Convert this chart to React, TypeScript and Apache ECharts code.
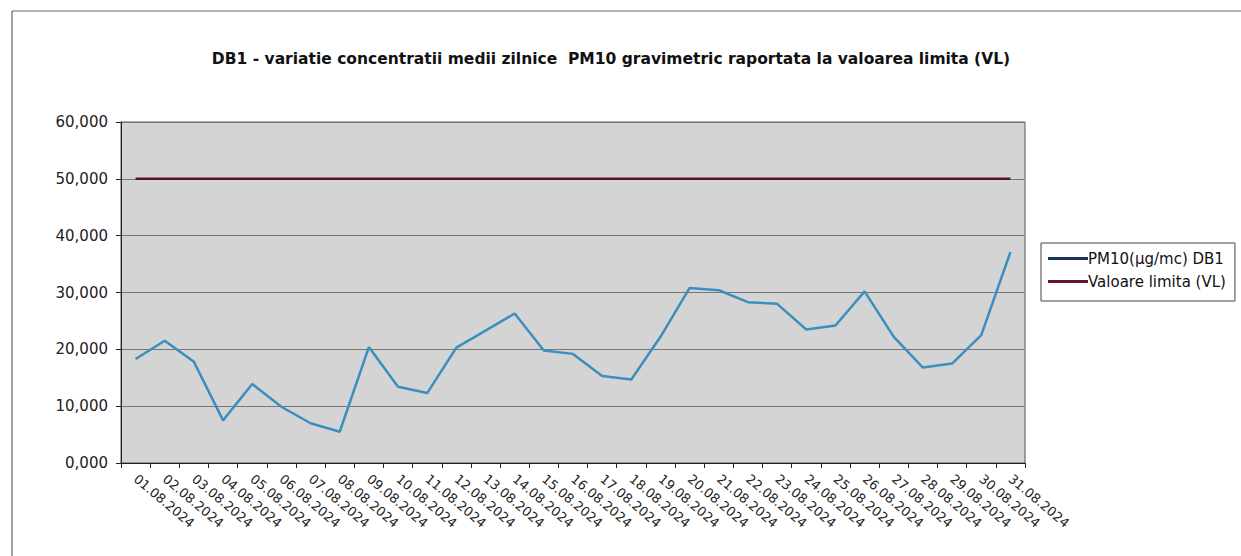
import React, { useEffect, useRef } from "react";
import * as echarts from "echarts";

const categories = [
  "01.08.2024", "02.08.2024", "03.08.2024", "04.08.2024", "05.08.2024", "06.08.2024",
  "07.08.2024", "08.08.2024", "09.08.2024", "10.08.2024", "11.08.2024", "12.08.2024",
  "13.08.2024", "14.08.2024", "15.08.2024", "16.08.2024", "17.08.2024", "18.08.2024",
  "19.08.2024", "20.08.2024", "21.08.2024", "22.08.2024", "23.08.2024", "24.08.2024",
  "25.08.2024", "26.08.2024", "27.08.2024", "28.08.2024", "29.08.2024", "30.08.2024",
  "31.08.2024",
];

const pm10 = [
  18.3, 21.5, 17.8, 7.5, 13.9, 9.9, 7.0, 5.5, 20.4, 13.4, 12.3, 20.3, 23.3, 26.3, 19.8,
  19.2, 15.3, 14.7, 22.2, 30.8, 30.4, 28.3, 28.0, 23.5, 24.2, 30.2, 22.2, 16.8, 17.5,
  22.5, 37.1,
];

const limitValues = categories.map(() => 50);

const titleText =
  "DB1 - variatie concentratii medii zilnice  PM10 gravimetric raportata la valoarea limita (VL)";
const seriesNames = ["PM10(µg/mc) DB1", "Valoare limita (VL)"];

const FONT = "DejaVu Sans, Liberation Sans, Arial, sans-serif";

export default function App() {
  const ref = useRef<HTMLDivElement>(null);
  useEffect(() => {
    if (!ref.current) return;
    const chart = echarts.init(ref.current, undefined, { renderer: "svg" });
    chart.setOption({
      animation: false,
      backgroundColor: "#ffffff",
      textStyle: { fontFamily: FONT },
      title: {
        text: titleText,
        left: 611,
        textAlign: "center",
        top: 51,
        padding: 0,
        textStyle: {
          fontSize: 15.5,
          fontWeight: "bold",
          color: "#111",
          fontFamily: FONT,
        },
      },
      graphic: [
        {
          type: "line",
          shape: { x1: 12, y1: 11, x2: 1241, y2: 11 },
          style: { stroke: "#666", lineWidth: 1.2 },
        },
        {
          type: "line",
          shape: { x1: 12, y1: 11, x2: 12, y2: 556 },
          style: { stroke: "#666", lineWidth: 1.2 },
        },
      ],
      legend: {
        orient: "vertical",
        left: 1041,
        top: 243,
        borderColor: "#444",
        borderWidth: 1,
        padding: [8, 9, 12, 7],
        itemGap: 8,
        itemWidth: 40,
        itemHeight: 3,
        icon: "rect",
        textStyle: { fontSize: 15, color: "#111", padding: [0, 0, 0, -5], fontFamily: FONT },
        data: [
          { name: seriesNames[0], itemStyle: { color: "#1c3557" } },
          { name: seriesNames[1], itemStyle: { color: "#6a1030" } },
        ],
      },
      grid: {
        left: 121,
        right: 216,
        top: 122,
        bottom: 93,
        show: true,
        backgroundColor: "#d4d4d4",
        borderColor: "#555",
        borderWidth: 1,
      },
      xAxis: {
        type: "category",
        data: categories,
        boundaryGap: true,
        axisLine: { show: true, lineStyle: { color: "#222", width: 1 } },
        axisTick: { show: true, alignWithLabel: false, length: 5, lineStyle: { color: "#222" } },
        axisLabel: {
          rotate: -40,
          interval: 0,
          fontSize: 13,
          color: "#222",
          margin: 14,
          fontFamily: FONT,
        },
        splitLine: { show: false },
      },
      yAxis: {
        type: "value",
        min: 0,
        max: 60,
        interval: 10,
        axisLine: { show: true, lineStyle: { color: "#222", width: 1 } },
        axisTick: { show: true, length: 5, lineStyle: { color: "#222" } },
        axisLabel: {
          fontSize: 15,
          color: "#222",
          margin: 13,
          fontFamily: FONT,
          formatter: (v: number) => v.toFixed(3).replace(".", ","),
        },
        splitLine: { show: true, lineStyle: { color: "#777", width: 1 } },
      },
      series: [
        {
          name: seriesNames[0],
          type: "line",
          data: pm10,
          symbol: "none",
          lineStyle: { color: "#3b8fbf", width: 2.5 },
          itemStyle: { color: "#1c3557" },
          z: 3,
        },
        {
          name: seriesNames[1],
          type: "line",
          data: limitValues,
          symbol: "none",
          lineStyle: { color: "#5a1028", width: 2.5 },
          itemStyle: { color: "#6a1030" },
          z: 2,
        },
      ],
    });
    return () => chart.dispose();
  }, []);
  return (
    <div
      ref={ref}
      style={{ position: "fixed", left: 0, top: 0, width: 1241, height: 556 }}
    />
  );
}
